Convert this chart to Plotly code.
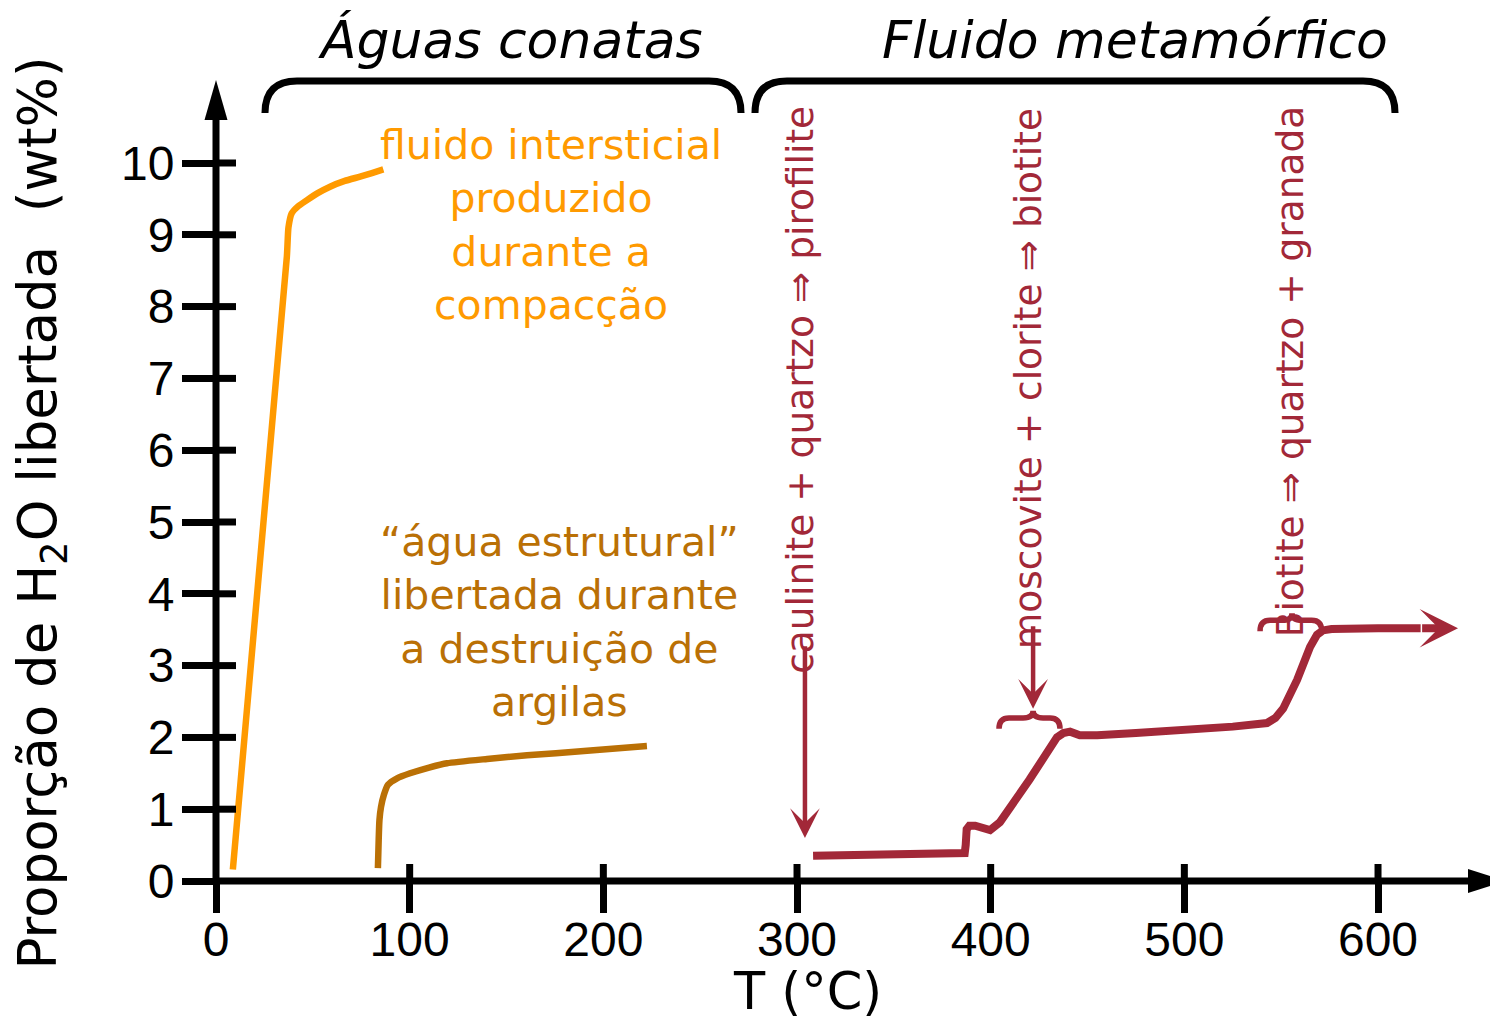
import plotly.graph_objects as go

# ---------------- data ----------------
x_ticks = [0, 100, 200, 300, 400, 500, 600]
x_tick_labels = ["0", "100", "200", "300", "400", "500", "600"]
y_ticks = [0, 1, 2, 3, 4, 5, 6, 7, 8, 9, 10]
y_tick_labels = [str(v) for v in y_ticks]

# interstitial fluid (compaction)
orange_T = [8.7, 36.6, 37.4, 39.1, 42.5, 46.8, 52.5, 58.9, 66.5, 74.4, 80.5, 86.4]
orange_W = [0.16, 8.70, 9.10, 9.30, 9.40, 9.48, 9.58, 9.67, 9.75, 9.81, 9.86, 9.91]

# structural water from clays
brown_T = [83.6, 84.0, 84.4, 85.2, 86.7, 88.8, 93.5, 100.2, 110.0, 119.3, 140.0, 160.6, 190.0, 222.5]
brown_W = [0.18, 0.57, 0.85, 1.03, 1.20, 1.34, 1.43, 1.50, 1.58, 1.64, 1.70, 1.75, 1.81, 1.88]

# metamorphic fluid
red_T = [308.3, 386.6, 387.1, 387.6, 389.0, 392.0, 399.7, 404.8, 420.0, 434.2, 437.5, 441.0,
         446.0, 455.0, 475.0, 499.3, 525.0, 542.7, 547.0, 551.0, 558.2, 564.9, 568.5, 571.5,
         576.0, 600.0, 622.0]
red_W = [0.35, 0.39, 0.50, 0.72, 0.77, 0.77, 0.71, 0.82, 1.41, 2.00, 2.06, 2.08,
         2.03, 2.03, 2.06, 2.10, 2.15, 2.20, 2.27, 2.40, 2.80, 3.26, 3.43, 3.49,
         3.51, 3.52, 3.52]

# reaction labels
reac_labels = ["caulinite + quartzo ⇒ pirofilite",
               "moscovite + clorite ⇒ biotite",
               "Biotite ⇒ quartzo + granada"]
reac_T = [301.5, 419.3, 554.6]
reac_W = [6.84, 6.99, 7.10]

# ---------------- geometry helpers ----------------
W, H = 1490, 1023
X0_PX, X_PER_PX = 216.0, 1.9367      # pixel of T=0, pixels per °C
Y0_PX, Y_PER_PX = 881.0, 71.8        # pixel of W=0, pixels per wt%
X_RANGE = [(0 - X0_PX) / X_PER_PX, (W - X0_PX) / X_PER_PX]
Y_RANGE = [-(H - Y0_PX) / Y_PER_PX, Y0_PX / Y_PER_PX]


def dx(px):
    return px / X_PER_PX


def dy(px):
    return px / Y_PER_PX


ORANGE = "#FF9A00"
BROWN = "#BA7005"
RED = "#A22838"
BLACK = "#000000"

TEXT_FONT = "DejaVu Sans, Verdana, sans-serif"
TICK_FONT = "Liberation Sans, Arial, sans-serif"

fig = go.Figure()

fig.add_trace(go.Scatter(x=orange_T, y=orange_W, mode="lines",
                         line=dict(color=ORANGE, width=6.5, shape="spline", smoothing=0.5),
                         hoverinfo="skip"))
fig.add_trace(go.Scatter(x=brown_T, y=brown_W, mode="lines",
                         line=dict(color=BROWN, width=6.5, shape="spline", smoothing=0.6),
                         hoverinfo="skip"))
fig.add_trace(go.Scatter(x=red_T, y=red_W, mode="lines",
                         line=dict(color=RED, width=8), hoverinfo="skip"))

shapes = []
annotations = []

# --- axes lines with arrow heads ---
X_TIP = (1506 - X0_PX) / X_PER_PX
Y_TIP = (Y0_PX - 80) / Y_PER_PX
shapes.append(dict(type="line", xref="x", yref="y", x0=0, y0=0, x1=X_TIP - dx(36), y1=0,
                   line=dict(color=BLACK, width=7)))
shapes.append(dict(type="path", xref="x", yref="y", xsizemode="pixel", ysizemode="pixel",
                   xanchor=X_TIP, yanchor=0, path="M -38,-12 L 0,0 L -38,12 Z",
                   fillcolor=BLACK, line=dict(width=0)))
shapes.append(dict(type="line", xref="x", yref="y", x0=0, y0=0, x1=0, y1=Y_TIP - dy(36),
                   line=dict(color=BLACK, width=7)))
shapes.append(dict(type="path", xref="x", yref="y", xsizemode="pixel", ysizemode="pixel",
                   xanchor=0, yanchor=Y_TIP, path="M -11.5,-40 L 0,0 L 11.5,-40 Z",
                   fillcolor=BLACK, line=dict(width=0)))

# inner part of tick marks (ticks cross the axes)
for t in x_ticks[1:]:
    shapes.append(dict(type="line", xref="x", yref="y", x0=t, x1=t, y0=0, y1=dy(17),
                       line=dict(color=BLACK, width=7)))
for t in y_ticks[1:]:
    shapes.append(dict(type="line", xref="x", yref="y", x0=0, x1=dx(20), y0=t, y1=t,
                       line=dict(color=BLACK, width=7)))


# --- black rounded brackets on top ---
def bracket(xa, xb, y_top, y_end, r_px=32):
    rx, ry = dx(r_px), dy(r_px)
    return (f"M {xa},{y_end} L {xa},{y_top - ry} Q {xa},{y_top} {xa + rx},{y_top} "
            f"L {xb - rx},{y_top} Q {xb},{y_top} {xb},{y_top - ry} L {xb},{y_end}")


BR_TOP = (Y0_PX - 81) / Y_PER_PX
BR_END = (Y0_PX - 112) / Y_PER_PX
for xa_px, xb_px in [(265, 741), (755, 1395)]:
    shapes.append(dict(type="path", xref="x", yref="y",
                       path=bracket((xa_px - X0_PX) / X_PER_PX, (xb_px - X0_PX) / X_PER_PX,
                                    BR_TOP, BR_END),
                       line=dict(color=BLACK, width=7)))


# --- small red curly braces ---
def curly(xa, xc, xb, y_mid, y_end, y_tip, r_px=10):
    rx = dx(r_px)
    return (f"M {xa},{y_end} Q {xa},{y_mid} {xa + rx},{y_mid} L {xc - rx},{y_mid} "
            f"Q {xc},{y_mid} {xc},{y_tip} Q {xc},{y_mid} {xc + rx},{y_mid} "
            f"L {xb - rx},{y_mid} Q {xb},{y_mid} {xb},{y_end}")


shapes.append(dict(type="path", xref="x", yref="y",
                   path=curly(404.3, 421.9, 435.8, 2.27, 2.12, 2.37),
                   line=dict(color=RED, width=5.5)))
shapes.append(dict(type="path", xref="x", yref="y",
                   path=curly(539.1, 555.6, 570.9, 3.63, 3.48, 3.73),
                   line=dict(color=RED, width=5.5)))

# --- red arrows ---
annotations.append(dict(x=304.1, y=0.60, ax=304.1, ay=3.29, xref="x", yref="y",
                        axref="x", ayref="y", text="", showarrow=True, arrowhead=3,
                        arrowsize=1.1, arrowwidth=4.5, arrowcolor=RED))
annotations.append(dict(x=421.9, y=2.40, ax=421.9, ay=3.57, xref="x", yref="y",
                        axref="x", ayref="y", text="", showarrow=True, arrowhead=3,
                        arrowsize=1.1, arrowwidth=4.5, arrowcolor=RED))
annotations.append(dict(x=641.3, y=red_W[-1], ax=red_T[-1], ay=red_W[-1], xref="x", yref="y",
                        axref="x", ayref="y", text="", showarrow=True, arrowhead=3,
                        arrowsize=0.8, arrowwidth=8, arrowcolor=RED))

# --- texts ---
annotations.append(dict(x=152.3, y=11.71, xref="x", yref="y", text="Águas conatas",
                        showarrow=False, font=dict(family=TEXT_FONT, size=52, color=BLACK,
                                                   style="italic")))
annotations.append(dict(x=474.5, y=11.71, xref="x", yref="y", text="Fluido metamórfico",
                        showarrow=False, font=dict(family=TEXT_FONT, size=52, color=BLACK,
                                                   style="italic")))
annotations.append(dict(x=173.0, y=9.14, xref="x", yref="y",
                        text="fluido intersticial<br>produzido<br>durante a<br>compacção",
                        showarrow=False, align="center",
                        font=dict(family=TEXT_FONT, size=41, color=ORANGE)))
annotations.append(dict(x=177.6, y=3.61, xref="x", yref="y",
                        text="“água estrutural”<br>libertada durante<br>a destruição de<br>argilas",
                        showarrow=False, align="center",
                        font=dict(family=TEXT_FONT, size=41, color=BROWN)))
for lab, tx, wy in zip(reac_labels, reac_T, reac_W):
    annotations.append(dict(x=tx, y=wy, xref="x", yref="y", text=lab, textangle=-90,
                            showarrow=False,
                            font=dict(family=TEXT_FONT, size=37.5, color=RED)))

# axis titles
annotations.append(dict(x=-89.9, y=5.13, xref="x", yref="y",
                        text="Proporção de H<sub>2</sub>O libertada  (wt%)", textangle=-90,
                        showarrow=False, font=dict(family=TEXT_FONT, size=53, color=BLACK)))
annotations.append(dict(x=305.2, y=-1.54, xref="x", yref="y", text="T (°C)",
                        showarrow=False, font=dict(family=TEXT_FONT, size=51, color=BLACK)))

fig.update_layout(
    width=W, height=H, autosize=False,
    margin=dict(l=0, r=0, t=0, b=0),
    paper_bgcolor="white", plot_bgcolor="white",
    showlegend=False,
    shapes=shapes, annotations=annotations,
    xaxis=dict(range=X_RANGE, domain=[0, 1], anchor="free", position=1 - Y0_PX / H,
               showgrid=False, zeroline=False, showline=False,
               ticks="outside", ticklen=31, tickwidth=7, tickcolor=BLACK,
               ticklabelstandoff=-15,
               tickvals=x_ticks, ticktext=x_tick_labels,
               tickfont=dict(family=TICK_FONT, size=48, color=BLACK)),
    yaxis=dict(range=Y_RANGE, domain=[0, 1], anchor="free", position=X0_PX / W,
               showgrid=False, zeroline=False, showline=False,
               ticks="outside", ticklen=34, tickwidth=7, tickcolor=BLACK,
               ticklabelstandoff=-2,
               tickvals=y_ticks, ticktext=y_tick_labels,
               tickfont=dict(family=TICK_FONT, size=48, color=BLACK)),
)

fig.write_html("out.html", config={"displayModeBar": False},
               post_script="document.body.style.margin='0';document.body.style.overflow='hidden';")
